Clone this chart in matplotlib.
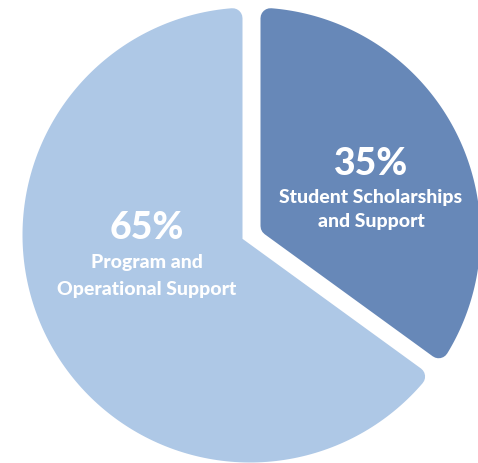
import numpy as np
import matplotlib.pyplot as plt
from matplotlib.patches import Polygon

# data
shares = [35, 65]
pct_labels = ['35%', '65%']
cat_labels = [['Student Scholarships', 'and Support'],
              ['Program and', 'Operational Support']]
colors = ['#6788b8', '#aec8e6']

W, H = 478, 464
fig = plt.figure(figsize=(W / 100, H / 100), dpi=100)
ax = fig.add_axes([0, 0, 1, 1])
ax.set_xlim(0, W)
ax.set_ylim(H, 0)
ax.axis('off')

# pie geometry in pixel units (y pointing down)
cx, cy = 253, 236
R = 235          # outer radius before padding
pad = 7.5        # half gap between slices
rc = 10          # corner radius
shift = [(0, 0), (-3, 0)]


def unit(a):
    # angle measured clockwise from 12 o'clock
    return np.array([np.sin(a), -np.cos(a)])


fr = np.array(shares) / np.sum(shares)
edges = np.concatenate([[0], np.cumsum(fr)]) * 2 * np.pi
for i in range(len(shares)):
    a1, a2 = edges[i], edges[i + 1]
    half = (a2 - a1) / 2
    d = pad + rc
    c = np.array([cx, cy]) + np.array(shift[i])
    v = c + d / np.sin(half) * unit(a1 + half)
    rho = R - d
    da = np.arcsin(d / rho)
    ang = np.linspace(a1 + da, a2 - da, 200)
    arc = [c + rho * unit(a) for a in ang]
    poly = Polygon([v] + arc, closed=True, facecolor=colors[i],
                   edgecolor=colors[i], linewidth=2 * rc * 72 / 100,
                   joinstyle='round')
    ax.add_patch(poly)

font = dict(family='Lato', weight='black', color='white', ha='center',
            va='baseline')
text_pos = [(371, 175, [203, 227]), (147, 239, [268, 295])]
for i in range(len(shares)):
    x, yp, ys = text_pos[i]
    ax.text(x, yp, pct_labels[i], fontsize=27, **font)
    for line, y in zip(cat_labels[i], ys):
        ax.text(x, y, line, fontsize=14, **font)

fig.savefig('out.png', dpi=100)
